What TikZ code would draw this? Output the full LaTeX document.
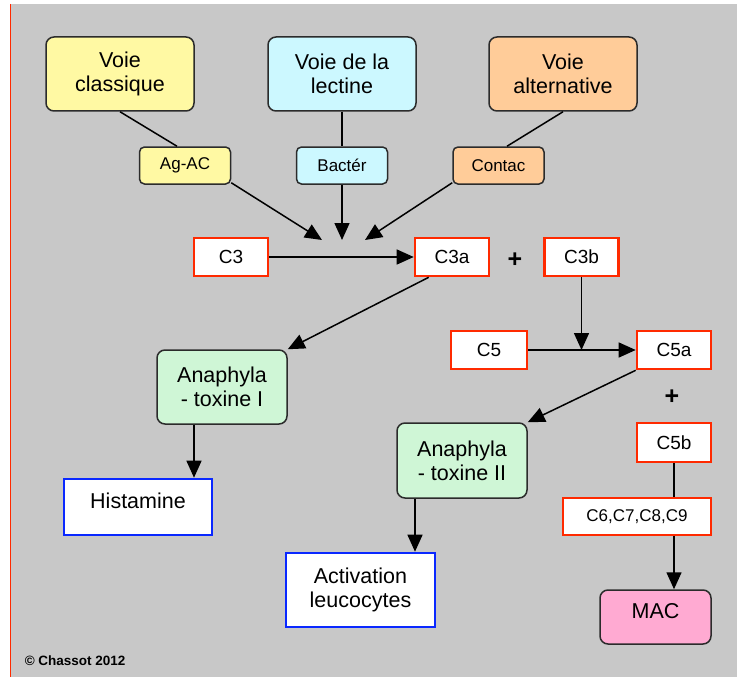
\documentclass[tikz,border=0pt]{standalone}
\usepackage{fontspec}
\setmainfont{Liberation Sans}
\usetikzlibrary{arrows.meta, positioning}
\definecolor{voieyellow}{HTML}{FFF9A3}
\definecolor{voiecyan}{HTML}{CCF8FF}
\definecolor{voieorange}{HTML}{FFCC99}
\definecolor{anagreen}{HTML}{CFF6D6}
\definecolor{macpink}{HTML}{FFAAD2}
\definecolor{bggray}{HTML}{C8C8C8}
\definecolor{compred}{HTML}{FF2A00}
\definecolor{resblue}{HTML}{0A28FF}
\definecolor{edgegray}{HTML}{2B2B2B}

\begin{document}
\begin{tikzpicture}[x=1pt, y=-1pt, >={Triangle[length=17pt, width=15pt]}, line width=1.5pt]
    \tikzstyle{voie} = [draw=edgegray, line width=1.5pt, rounded corners=8pt, minimum width=148pt, minimum height=74pt, align=center, inner sep=2pt, font=\fontsize{21.5}{24}\selectfont]
    \tikzstyle{trigger} = [draw=edgegray, line width=1.5pt, rounded corners=5pt, minimum width=91pt, minimum height=37pt, inner sep=2pt, font=\fontsize{17}{20}\selectfont]
    \tikzstyle{comp} = [draw=compred, line width=2.6pt, fill=white, minimum width=74pt, minimum height=38pt, inner sep=2pt, font=\fontsize{19}{22}\selectfont]
    \tikzstyle{ana} = [voie, fill=anagreen, minimum width=130pt, minimum height=74pt]
    \tikzstyle{result} = [draw=resblue, line width=2.6pt, fill=white, minimum width=148pt, align=center, inner sep=2pt, font=\fontsize{21.5}{24}\selectfont]
    \tikzstyle{plus} = [font=\fontsize{25}{25}\selectfont\bfseries, inner sep=0pt]

    % Background
    \useasboundingbox (0,0) rectangle (737,677);
    \fill[white] (0,0) rectangle (737,677);
    \fill[bggray] (10,4) rectangle (737,677);
    \draw[compred, line width=1pt] (10,4) -- (10,677);

    % Top row
    \node[voie, fill=voieyellow] (classique) at (120,74) {Voie\\classique};
    \node[voie, fill=voiecyan] (lectine) at (342,74) {Voie de la\\lectine};
    \node[voie, fill=voieorange] (alternative) at (563,74) {Voie\\alternative};

    % Triggers
    \node[trigger, fill=voieyellow] (agac) at (185,165.5) {Ag-AC};
    \node[trigger, fill=voiecyan] (bacter) at (342,165.5) {Bactér};
    \node[trigger, fill=voieorange] (contac) at (498.5,165.5) {Contac};

    % C3 row
    \node[comp] (c3) at (231,257) {C3};
    \node[comp] (c3a) at (452,257) {C3a};
    \node[comp] (c3b) at (581.5,257) {C3b};
    \node[plus] (plusA) at (515,260) {+};
    \coordinate (hitA) at (322,240);
    \coordinate (hitB) at (342,240);
    \coordinate (hitC) at (365,240);

    % C5 row
    \node[comp, minimum width=76pt] (c5) at (489,350) {C5};
    \node[comp] (c5a) at (674,350) {C5a};
    \node[plus] (plusB) at (672,397) {+};
    \node[comp, minimum height=39pt] (c5b) at (674,442.5) {C5b};
    \node[comp, line width=1.2pt, minimum width=148pt, minimum height=37pt, font=\fontsize{17}{20}\selectfont] (c6to9) at (637,516.5) {C6,C7,C8,C9};

    % Anaphylatoxins and effects
    \node[ana] (anaI) at (222,387) {Anaphyla\\- toxine I};
    \node[ana, minimum height=75pt] (anaII) at (462,460.5) {Anaphyla\\- toxine II};
    \node[result, minimum height=56pt, text height=22pt, text depth=20pt, inner ysep=7pt] (histamine) at (138,507) {Histamine};
    \node[result, minimum width=149pt, minimum height=74pt] (activation) at (360.5,590) {Activation\\leucocytes};
    \node[voie, fill=macpink, minimum width=111pt, minimum height=54pt, text height=22pt, text depth=20pt, inner ysep=6pt] (mac) at (655.5,617) {MAC};

    \node[font=\fontsize{13.5}{16}\selectfont\bfseries, anchor=west, inner sep=0pt] (copy) at (24,661) {© Chassot 2012};

    % Edges
    \draw (classique.south) -- ([xshift=-8pt]agac.north);
    \draw (lectine.south) -- (bacter.north);
    \draw (alternative.south) -- ([xshift=8.5pt]contac.north);
    \draw[->] ([yshift=2pt]agac.south east) -- (hitA);
    \draw[->] (bacter.south) -- (hitB);
    \draw[->] ([yshift=2pt]contac.south west) -- (hitC);
    \draw[->] (c3) -- (c3a);
    \draw[->] ([xshift=15pt]c3a.south west) -- (anaI.north east);
    \draw[->] (c3b) -- (c3b |- c5);
    \draw[->] (c5) -- (c5a);
    \draw[->] (c5a.south west) -- (anaII.north east);
    \draw[->] ([xshift=-28pt]anaI.south) -- ([xshift=-28pt]anaI.south |- histamine.north);
    \draw[->] ([xshift=-47pt]anaII.south) -- ([xshift=-47pt]anaII.south |- activation.north);
    \draw (c5b) -- (c5b |- c6to9.north);
    \draw[->] (c5b |- c6to9.south) -- (c5b |- mac.north);
\end{tikzpicture}
\end{document}
